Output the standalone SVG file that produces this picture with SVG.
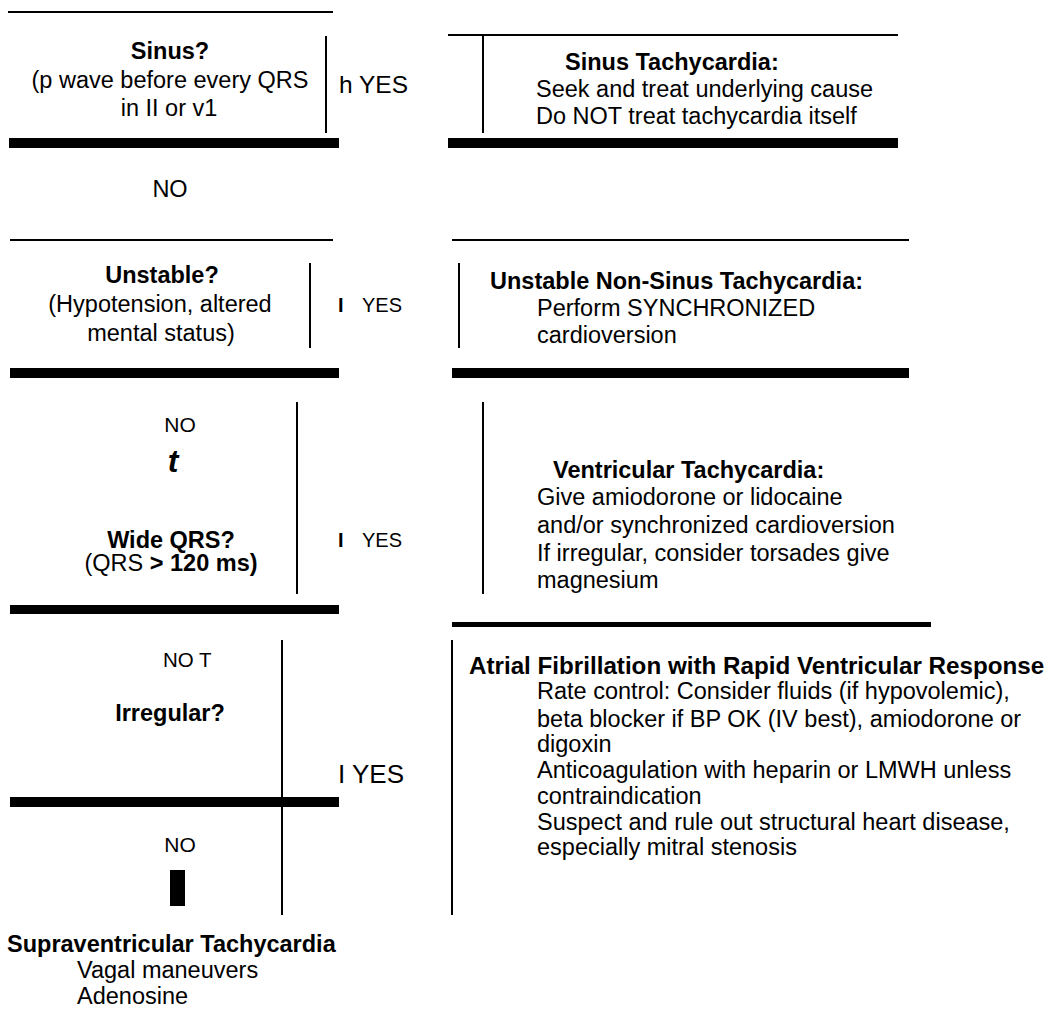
<svg xmlns="http://www.w3.org/2000/svg" width="1047" height="1011" viewBox="0 0 1047 1011">
<style>
text{font-family:"Liberation Sans",Arial,Helvetica,sans-serif;fill:#000;font-size:23.5px}
.b{font-weight:bold}
.c{text-anchor:middle}
.thin{stroke:#000;stroke-width:2;fill:none}
.bar{fill:#000}
</style>
<rect width="1047" height="1011" fill="#fff"/>

<g id="q-sinus">
<line class="thin" x1="8" y1="12" x2="333" y2="12"/>
<line class="thin" x1="326" y1="36" x2="326" y2="133"/>
<rect class="bar" x="9" y="138" width="330" height="10"/>
<text class="b c" x="170" y="59">Sinus?</text>
<text class="c" x="170" y="88">(p wave before every QRS</text>
<text class="c" x="169" y="116">in II or v1</text>
</g>

<g id="r-sinus-tach">
<line class="thin" x1="448" y1="35" x2="898" y2="35"/>
<line class="thin" x1="483" y1="35" x2="483" y2="133"/>
<rect class="bar" x="448" y="138" width="450" height="10"/>
<text class="b" x="565" y="70">Sinus Tachycardia:</text>
<text x="536" y="97">Seek and treat underlying cause</text>
<text x="536" y="124">Do NOT treat tachycardia itself</text>
</g>

<g id="q-unstable">
<line class="thin" x1="10" y1="240" x2="333" y2="240"/>
<line class="thin" x1="310" y1="263" x2="310" y2="348"/>
<rect class="bar" x="10" y="368" width="329" height="10"/>
<text class="b c" x="162" y="283">Unstable?</text>
<text class="c" x="160" y="312">(Hypotension, altered</text>
<text class="c" x="161" y="341">mental status)</text>
</g>

<g id="r-unstable">
<line class="thin" x1="452" y1="240" x2="909" y2="240"/>
<line class="thin" x1="459" y1="263" x2="459" y2="348"/>
<rect class="bar" x="452" y="368" width="457" height="10"/>
<text class="b" x="490" y="289">Unstable Non-Sinus Tachycardia:</text>
<text x="537" y="316">Perform SYNCHRONIZED</text>
<text x="537" y="343">cardioversion</text>
</g>

<g id="q-wide">
<line class="thin" x1="297" y1="402" x2="297" y2="594"/>
<rect class="bar" x="10" y="605" width="329" height="9"/>
<text class="b c" x="171" y="548">Wide QRS?</text>
<text class="c" x="171" y="571">(QRS <tspan class="b">&gt; 120 ms)</tspan></text>
</g>

<g id="r-vt">
<line class="thin" x1="483" y1="402" x2="483" y2="594"/>
<rect class="bar" x="452" y="622" width="479" height="5"/>
<text class="b" x="553" y="478">Ventricular Tachycardia:</text>
<text x="537" y="505">Give amiodorone or lidocaine</text>
<text x="537" y="533">and/or synchronized cardioversion</text>
<text x="537" y="561">If irregular, consider torsades give</text>
<text x="537" y="588">magnesium</text>
</g>

<g id="q-irregular">
<line class="thin" x1="282" y1="640" x2="282" y2="915"/>
<rect class="bar" x="10" y="797" width="329" height="10"/>
<text class="b c" x="170" y="721">Irregular?</text>
</g>

<g id="r-af">
<line class="thin" x1="452" y1="640" x2="452" y2="915"/>
<text class="b" x="469" y="674" style="font-size:24.2px">Atrial Fibrillation with Rapid Ventricular Response</text>
<text x="537" y="699">Rate control: Consider fluids (if hypovolemic),</text>
<text x="537" y="727">beta blocker if BP OK (IV best), amiodorone or</text>
<text x="537" y="752">digoxin</text>
<text x="537" y="778">Anticoagulation with heparin or LMWH unless</text>
<text x="537" y="804">contraindication</text>
<text x="537" y="830">Suspect and rule out structural heart disease,</text>
<text x="537" y="855">especially mitral stenosis</text>
</g>

<g id="r-svt">
<text class="b" x="7" y="952">Supraventricular Tachycardia</text>
<text x="77" y="978">Vagal maneuvers</text>
<text x="77" y="1004">Adenosine</text>
</g>

<g id="connectors">
<text x="339" y="93" style="font-size:24.5px">h YES</text>
<text class="c" x="170" y="197">NO</text>
<text class="b" x="338" y="312" style="font-size:20px">I</text>
<text x="362" y="312" style="font-size:20px">YES</text>
<text class="c" x="180" y="432" style="font-size:21px">NO</text>
<text class="b c" x="173" y="472" style="font-size:32px;font-style:italic">t</text>
<text class="b" x="338" y="547" style="font-size:20px">I</text>
<text x="362" y="547" style="font-size:20px">YES</text>
<text x="163" y="667" style="font-size:20.5px">NO T</text>
<text x="338" y="783" style="font-size:26px">I YES</text>
<text class="c" x="180" y="852" style="font-size:21px">NO</text>
<rect class="bar" x="170" y="870" width="15" height="36"/>
</g>
</svg>
